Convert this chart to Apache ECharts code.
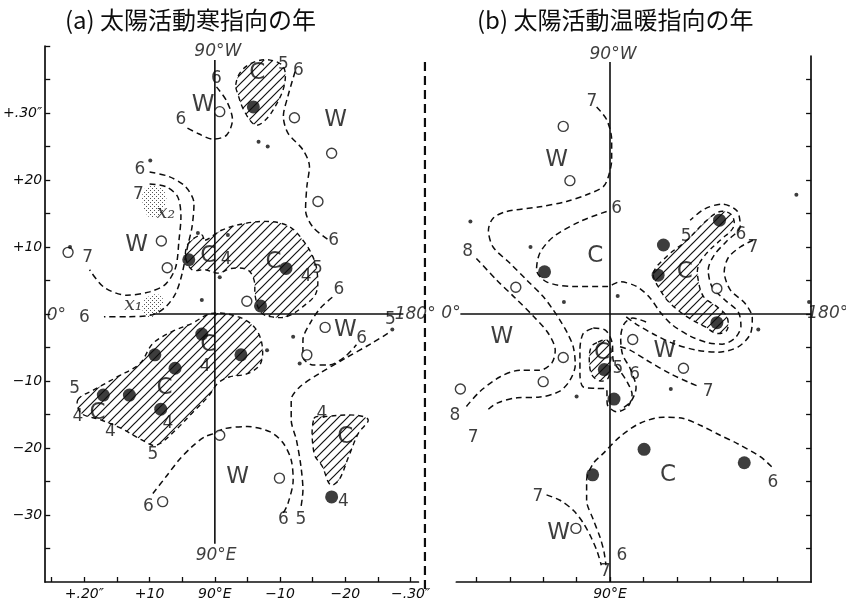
<!DOCTYPE html>
<html><head><meta charset="utf-8">
<script src="https://cdn.jsdelivr.net/npm/echarts@6/dist/echarts.min.js"></script>
<style>html,body{margin:0;padding:0;background:#fff}#c{width:846px;height:604px}</style>
</head><body><div id="c"></div>
<script>
// ---------- Panel (a) data ----------
const aFilled = [[5.9,30.9],[-4.0,8.1],[10.9,6.8],[7.0,1.2],[-2.0,-3.0],[-9.2,-6.1],[4.0,-6.1],[-6.1,-8.1],[-17.1,-12.1],[-13.1,-12.1],[-8.3,-14.2],[17.9,-27.3]];
const aOpen = [[0.75,30.2],[12.2,29.3],[17.9,24.0],[15.8,16.8],[-8.2,10.9],[-7.3,6.9],[-22.5,9.2],[4.9,1.9],[16.9,-2.0],[14.1,-6.1],[0.75,-18.1],[9.9,-24.5],[-8.0,-28.0]];
const aDots = [[-9.9,22.9],[6.7,25.7],[8.1,25.0],[-2.6,12.1],[-2.0,2.1],[2.0,11.8],[0.75,5.5],[12.0,-3.4],[8.0,-5.4],[13.0,-7.4],[27.2,-2.3],[-22.2,10.0]];
const aContours = [
  [[0.25,33.9],[1.8,31.8],[2.7,29.0],[1.8,26.7],[-0.3,26.1],[-2.5,26.9],[-4.3,27.8]],
  [[12.3,36.2],[11.2,32.5],[10.5,29.5],[11.2,27.0],[13.5,24.5],[14.5,22.0],[14.1,19.0],[13.9,15.5],[15.0,13.0],[17.5,11.0]],
  [[-10.0,21.2],[-7.0,20.5],[-4.5,19.0],[-3.2,16.5],[-3.5,13.0],[-4.2,10.0],[-5.0,6.1],[-6.0,3.1],[-7.5,1.1],[-9.5,-0.1],[-13.5,-0.4],[-17.0,-0.4]],
  [[-10.0,19.4],[-7.5,19.0],[-5.7,17.5],[-5.2,14.5],[-5.5,11.0],[-6.0,7.0],[-7.5,4.5],[-10.0,3.3],[-13.5,2.8],[-17.0,4.0],[-19.2,6.6]],
  [[-9.5,-26.8],[-7.5,-24.3],[-5.5,-21.8],[-3.5,-19.8],[-1.5,-18.3],[0,-17.8],[1.5,-17.1],[5.0,-16.8],[8.5,-17.6],[10.5,-19.3],[11.7,-21.8],[12.0,-24.8],[11.2,-28.3],[10.5,-29.7]],
  [[26.5,-2.9],[24.0,-4.4],[20.0,-6.6],[16.0,-8.9],[13.0,-10.9],[11.7,-12.8],[11.7,-15.8],[12.5,-18.8],[13.2,-22.8],[13.5,-26.3],[13.2,-28.8]],
  [[18.0,2.5],[16.2,0.9],[14.7,-1.2],[13.5,-3.9],[13.5,-6.4],[15.0,-7.6],[17.5,-7.6],[19.9,-6.4],[21.7,-4.6]]
];
const aHatched = [
  [[3.2,34.2],[4.0,36.2],[6.0,37.6],[8.5,37.9],[10.5,36.9],[10.7,34.4],[9.5,31.4],[7.7,28.9],[6.2,28.2],[4.5,30.3],[3.5,32.9]],
  [[-1.5,11.0],[1.0,12.5],[4.5,13.5],[8.5,13.8],[11.5,13.0],[13.5,11.0],[15.0,8.6],[15.7,6.1],[15.5,3.1],[13.5,1.1],[11.0,-0.4],[8.5,-0.4],[7.0,0.3],[6.2,2.6],[6.0,5.1],[5.0,6.6],[2.5,6.8],[0.5,6.1],[-1.5,6.6],[-3.5,6.6],[-4.5,8.6],[-4.0,10.6],[-2.0,11.8]],
  [[-21.0,-12.8],[-18.5,-11.3],[-15.0,-9.4],[-11.5,-7.4],[-9.5,-4.4],[-6.5,-2.6],[-3.5,-1.4],[-0.5,0.1],[3.5,-0.4],[6.0,-1.9],[7.2,-4.4],[7.0,-7.4],[5.0,-8.9],[2.2,-9.4],[0.5,-10.3],[-1.0,-12.3],[-3.5,-14.8],[-6.0,-17.3],[-9.0,-19.6],[-11.2,-18.8],[-14.5,-17.0],[-17.5,-15.8],[-20.5,-14.8]],
  [[15.2,-15.6],[17.0,-15.3],[21.5,-15.1],[23.5,-15.8],[22.0,-17.8],[20.5,-21.3],[19.0,-24.8],[17.7,-25.5],[16.5,-22.8],[15.2,-20.8]]
];
const aStippled = [
  [[-10.9,18.5],[-9.0,19.1],[-7.5,17.8],[-7.9,15.5],[-9.7,14.3],[-10.9,15.8]],
  [[-10.8,2.1],[-9.0,3.0],[-7.9,2.1],[-8.7,0.3],[-10.2,-0.6],[-11.1,0.6]]
];
const aLetters = [[6.5,35.9,'C'],[-1.8,31.2,'W'],[18.5,29.0,'W'],[-12.0,10.3,'W'],[-1.0,8.6,'C'],[9.0,7.8,'C'],[20.0,-2.4,'W'],[-1.0,-4.6,'C'],[-7.7,-11.1,'C'],[-18.0,-14.8,'C'],[20.0,-18.3,'C'],[3.5,-24.3,'W']];
const aNumbers = [[0.25,35.2,'6'],[10.5,37.2,'5'],[12.8,36.4,'6'],[-5.2,29.0,'6'],[-11.5,21.5,'6'],[-11.7,17.8,'7'],[-19.5,8.4,'7'],[-20.0,-0.6,'6'],[1.75,8.1,'4'],[14.0,5.6,'4'],[15.7,6.8,'5'],[18.2,11.0,'6'],[19.0,3.6,'6'],[22.5,-3.6,'6'],[26.9,-0.9,'5'],[-21.5,-11.1,'5'],[-21.0,-15.3,'4'],[-16.0,-17.6,'4'],[-7.2,-16.3,'4'],[-1.5,-7.9,'4'],[-9.5,-21.0,'5'],[-10.2,-28.8,'6'],[10.5,-30.7,'6'],[13.2,-30.7,'5'],[16.4,-14.8,'4'],[19.7,-28.0,'4']];
const aMarks = [[-7.5,15.0,'x₂'],[-12.5,1.3,'x₁']];
const aAxisText = [[0.45,39.1,'90°W'],[0.2,-36.0,'90°E'],[-24.3,-0.3,'0°'],[30.7,-0.1,'180°']];
const aXTickVals = [-20,-10,0,10,20,30];
const aXTickText = ['+.20″','+10','90°E','−10','−20','−.30″'];
const aYTickVals = [-30,-20,-10,10,20,30];
const aYTickText = ['−30','−20','−10','+10','+20','+.30″'];
const aXTicks = [-25,-20,-15,-10,-5,0,5,10,15,20,25,30];
const aYTicks = [-35,-30,-25,-20,-15,-10,-5,0,5,10,15,20,25,30,35,40];
const aCrossH = [[-9.5,0],[28.9,0]];
const aCrossV = [[0,37.9],[0,-34.3]];
const aBorder = [[32.2,37.6],[32.2,-41.5]];

// ---------- Panel (b) data ----------
const bFilled = [[-9.8,6.3],[16.4,14.0],[8.0,10.3],[7.2,5.8],[16.0,-1.3],[-0.85,-8.3],[0.6,-12.7],[-2.6,-24.0],[5.1,-20.2],[20.1,-22.2]];
const bOpen = [[-7.0,28.0],[-6.0,19.9],[-14.1,4.0],[16.0,3.8],[-7.0,-6.5],[-10.0,-10.1],[-22.4,-11.2],[3.4,-3.8],[11.0,-8.1],[-5.1,-32.0]];
const bDots = [[-20.9,13.8],[-11.9,10.0],[-6.9,1.8],[1.15,2.7],[27.9,17.8],[29.8,1.8],[22.2,-2.3],[9.1,-11.2],[-5.0,-12.3]];
const bContours = [
  [[-2.0,30.9],[-0.5,29.0],[0.25,26.0],[0.25,23.0],[-0.25,20.5],[-1.0,19.0],[-3.5,17.8],[-6.5,16.8],[-10.5,16.0],[-15.5,15.3],[-17.5,14.3],[-18.2,12.5],[-17.5,10.0],[-15.0,7.6],[-12.5,5.1],[-10.0,2.6],[-8.5,0.6],[-7.5,-0.9],[-6.4,-2.8],[-5.5,-4.9],[-5.2,-7.6],[-6.0,-9.9],[-7.5,-11.5],[-10.5,-12.4],[-13.9,-12.5],[-16.9,-13.3],[-18.3,-14.3]],
  [[-20.0,8.3],[-17.0,5.1],[-14.2,2.4],[-11.5,-0.3],[-9.3,-2.8],[-8.2,-5.4],[-8.7,-7.3],[-10.5,-8.4],[-13.5,-8.4],[-16.5,-9.4],[-19.5,-11.6],[-21.5,-13.8]],
  [[-0.5,15.3],[-4.5,13.8],[-8.5,11.5],[-10.5,9.1],[-11.0,6.6],[-9.5,4.8],[-5.5,4.1],[-0.5,4.1],[1.5,4.8],[4.0,4.1],[6.0,2.4],[7.5,0.3],[9.3,-1.6],[12.0,-3.3],[14.7,-4.3],[16.8,-4.5],[18.7,-3.6],[19.6,-1.8],[19.2,0.3],[17.2,2.1],[15.3,4.0],[14.7,6.6],[15.6,8.8],[17.5,10.9],[19.5,13.1],[19.0,15.4],[16.8,16.4],[14.2,15.7],[12.0,14.0]],
  [[21.4,11.0],[19.5,10.0],[17.7,8.4],[17.1,6.3],[18.0,3.6],[20.2,1.6],[21.3,-0.6],[21.0,-3.0],[19.2,-4.9],[16.2,-5.7],[13.0,-5.4],[9.7,-4.5],[6.7,-3.1],[3.9,-1.5],[2.4,-0.4]],
  [[5.4,-1.2],[3.4,-0.6],[2.1,-1.5],[1.6,-3.6],[1.9,-6.1],[3.0,-8.1],[3.9,-11.0],[3.1,-13.1],[1.5,-14.3]],
  [[1.5,-4.9],[3.0,-5.4],[5.5,-6.9],[9.0,-8.9],[12.0,-10.3],[13.5,-10.9]],
  [[24.2,-22.8],[22.5,-21.3],[19.0,-19.3],[16.5,-18.1],[13.5,-16.6],[11.0,-15.6],[8.0,-15.4],[4.5,-16.3],[1.5,-18.3],[-1.0,-20.8],[-2.5,-22.3],[-3.5,-24.8],[-3.5,-27.8],[-2.5,-30.7],[-1.5,-33.3],[-0.9,-35.5],[-0.6,-37.5]],
  [[-9.5,-27.0],[-7.5,-27.8],[-5.5,-29.3],[-4.0,-31.2],[-2.8,-33.4],[-1.9,-35.5],[-1.3,-37.5]],
  [[-2.5,-2.1],[-0.7,-2.4],[0.3,-4.2],[0.5,-7.0],[1.5,-8.5],[2.6,-10.2],[3.3,-12.0],[2.7,-13.8],[1.0,-14.6],[-0.4,-13.5],[-0.5,-11.2],[-2.0,-11.1],[-4.0,-10.9],[-4.5,-9.0],[-4.5,-5.4],[-4.0,-2.9],[-2.5,-2.1]]
];
const bHatched = [
  [[6.5,6.1],[8.5,8.6],[11.5,11.0],[14.5,14.0],[16.5,15.3],[18.2,14.8],[18.5,13.0],[16.5,11.0],[14.5,9.1],[13.2,7.1],[13.2,5.1],[14.0,2.6],[16.0,1.1],[17.5,-0.4],[17.5,-2.4],[16.0,-2.9],[14.2,-1.9],[11.5,-0.4],[9.0,1.6],[7.5,3.6]],
  [[-1.8,-4.2],[-0.45,-3.9],[0.15,-5.4],[0,-7.6],[-0.3,-9.6],[-1.5,-10.0],[-2.7,-9.1],[-3.1,-6.9],[-2.8,-4.9]]
];
const bLetters = [[-8.0,23.0,'W'],[-2.2,8.6,'C'],[11.2,6.3,'C'],[-16.2,-3.4,'W'],[-1.2,-5.9,'C'],[8.2,-5.6,'W'],[8.7,-24.0,'C'],[-7.7,-32.7,'W']];
const bNumbers = [[-2.7,31.7,'7'],[1.0,15.8,'6'],[-21.3,9.3,'8'],[-23.2,-15.1,'8'],[-20.5,-18.4,'7'],[11.4,11.5,'5'],[19.6,11.8,'6'],[21.4,9.9,'7'],[1.2,-8.1,'5'],[3.7,-9.1,'6'],[14.7,-11.6,'7'],[24.4,-25.1,'6'],[-10.8,-27.3,'7'],[1.8,-36.0,'6'],[-0.7,-38.5,'7']];
const bAxisText = [[0.45,38.7,'90°W'],[-23.8,0,'0°'],[32.6,0.1,'180°']];
const bXTickVals = [0];
const bXTickText = ['90°E'];
const bXTicks = [-20,-15,-10,-5,0,5,10,15,20,25];
const bYTicks = [-35,-30,-25,-20,-15,-10,-5,0,5,10,15,20,25,30,35];
const bCrossH = [[-22.4,0],[30.1,0]];
const bCrossV = [[0,37.6],[0,-40]];

const titleA = '(a) 太陽活動寒指向の年';
const titleB = '(b) 太陽活動温暖指向の年';

// ---------- layout ----------
const KX = 6.68, KY = 6.7;
const PA = {x0:210, y0:314, xmin:-26, xmax:31.2, ymin:-40, ymax:40};
const PB = {x0:610, y0:314, xmin:-23, xmax:30.1, ymin:-40, ymax:38.5};
function gridOf(p){ return {left:p.x0+p.xmin*KX, top:p.y0-p.ymax*KY, width:(p.xmax-p.xmin)*KX, height:(p.ymax-p.ymin)*KY, containLabel:false}; }

function hatchCanvas(size, lw){
  const c=document.createElement('canvas'); c.width=c.height=size;
  const g=c.getContext('2d'); g.strokeStyle='#111'; g.lineWidth=lw; g.beginPath();
  g.moveTo(0,size); g.lineTo(size,0);
  g.moveTo(-size/2,size/2); g.lineTo(size/2,-size/2);
  g.moveTo(size/2,size*1.5); g.lineTo(size*1.5,size/2);
  g.stroke(); return c;
}
function stippleCanvas(){
  const c=document.createElement('canvas'); c.width=c.height=4;
  const g=c.getContext('2d'); g.fillStyle='#555';
  g.fillRect(0,0,1,1); g.fillRect(2,2,1,1); return c;
}
const HATCH = hatchCanvas(9, 1.2);
const STIP = stippleCanvas();
const INK = '#0d0d0d';
const HAND = "'DejaVu Sans', sans-serif";

function polySeries(polys, ai, img, dashed){
  return {type:'custom', xAxisIndex:ai, yAxisIndex:ai, data:polys.map(p=>p[0]), clip:false, silent:true, z:1,
    renderItem:(params, api)=>{
      const pts = polys[params.dataIndex].map(q=>api.coord(q));
      return {type:'polygon', shape:{points:pts, smooth:0.35},
        style:{fill:{image:img, repeat:'repeat'}, stroke: dashed?INK:'none', lineWidth:1.4, lineDash: dashed?[5,4]:null}};
    }};
}
function polylineSeries(line, ai, width, dash){
  return {type:'custom', xAxisIndex:ai, yAxisIndex:ai, data:[line[0]], clip:false, silent:true, z:2,
    renderItem:(params, api)=>({type:'polyline', shape:{points:line.map(q=>api.coord(q))},
      style:{fill:'none', stroke:INK, lineWidth:width, lineDash:dash}})};
}
function lineSeries(data, ai){
  return {type:'line', xAxisIndex:ai, yAxisIndex:ai, data, smooth:0.3, symbol:'none', showSymbol:false, clip:false, silent:true, z:3,
    lineStyle:{color:INK, width:1.5, type:[6,4]}};
}
function ptSeries(data, ai, kind){
  const s={type:'scatter', xAxisIndex:ai, yAxisIndex:ai, data, clip:false, silent:true, z:4, symbol:'circle'};
  if(kind==='filled'){ s.symbolSize=13; s.itemStyle={color:INK}; }
  else if(kind==='open'){ s.symbolSize=10; s.itemStyle={color:'#fff', borderColor:INK, borderWidth:1.4}; }
  else { s.symbolSize=4; s.itemStyle={color:INK}; }
  return s;
}
function textSeries(data, ai, size, font, style){
  return {type:'scatter', xAxisIndex:ai, yAxisIndex:ai, data, symbolSize:1, clip:false, silent:true, z:6,
    itemStyle:{color:'rgba(0,0,0,0)'},
    label:{show:true, position:'inside', formatter:p=>p.value[2], color:INK, fontSize:size, fontFamily:font, fontStyle:style||'normal'}};
}

const series = [];
[[aHatched,aStippled,aContours,aCrossH,aCrossV,aFilled,aOpen,aDots,aLetters,aNumbers,aMarks,aAxisText,0],
 [bHatched,[],bContours,bCrossH,bCrossV,bFilled,bOpen,bDots,bLetters,bNumbers,[],bAxisText,1]].forEach(P=>{
  const ai=P[12];
  series.push(polySeries(P[0], ai, HATCH, true));
  if(P[1].length) series.push(polySeries(P[1], ai, STIP, false));
  P[2].forEach(c=>series.push(lineSeries(c, ai)));
  series.push(polylineSeries(P[3], ai, 1.6, null));
  series.push(polylineSeries(P[4], ai, 1.6, null));
  series.push(ptSeries(P[5], ai, 'filled'));
  series.push(ptSeries(P[6], ai, 'open'));
  series.push(ptSeries(P[7], ai, 'dot'));
  series.push(textSeries(P[8], ai, 23, HAND));
  series.push(textSeries(P[9], ai, 17, HAND));
  if(P[10].length) series.push(textSeries(P[10], ai, 19, "'DejaVu Serif', serif", 'italic'));
  series.push(textSeries(P[11], ai, 17, HAND, 'italic'));
});
series.push(polylineSeries(aBorder, 0, 2.2, [9,5]));

const axisLine = {show:true, onZero:false, lineStyle:{color:INK, width:1.7}};
const labelStyle = {color:INK, fontSize:14, fontFamily:HAND, fontStyle:'italic'};

const option = {
  backgroundColor:'#fff',
  animation:false,
  title:[
    {text:titleA, left:60, top:3, textStyle:{fontFamily:"'Noto Sans CJK JP', sans-serif", fontSize:24, fontWeight:'normal', color:INK}},
    {text:titleB, left:472, top:3, textStyle:{fontFamily:"'Noto Sans CJK JP', sans-serif", fontSize:24, fontWeight:'normal', color:INK}}
  ],
  grid:[gridOf(PA), gridOf(PB)],
  xAxis:[
    {type:'value', gridIndex:0, min:PA.xmin, max:PA.xmax, position:'bottom', axisLine, splitLine:{show:false},
     axisTick:{show:true, inside:true, length:5, lineStyle:{color:INK, width:1.3}, customValues:aXTicks},
     axisLabel:Object.assign({customValues:aXTickVals, margin:5, formatter:v=>aXTickText[aXTickVals.indexOf(v)]||''}, labelStyle)},
    {type:'value', gridIndex:1, min:PB.xmin, max:PB.xmax, position:'bottom', axisLine, splitLine:{show:false},
     axisTick:{show:true, inside:true, length:5, lineStyle:{color:INK, width:1.3}, customValues:bXTicks},
     axisLabel:Object.assign({customValues:bXTickVals, margin:5, formatter:v=>bXTickText[bXTickVals.indexOf(v)]||''}, labelStyle)}
  ],
  yAxis:[
    {type:'value', gridIndex:0, min:PA.ymin, max:PA.ymax, position:'left', axisLine, splitLine:{show:false},
     axisTick:{show:true, inside:true, length:5, lineStyle:{color:INK, width:1.3}, customValues:aYTicks},
     axisLabel:Object.assign({customValues:aYTickVals, margin:3, formatter:v=>aYTickText[aYTickVals.indexOf(v)]||''}, labelStyle)},
    {type:'value', gridIndex:1, min:PB.ymin, max:PB.ymax, position:'right', axisLine, splitLine:{show:false},
     axisTick:{show:true, inside:true, length:5, lineStyle:{color:INK, width:1.3}, customValues:bYTicks},
     axisLabel:{show:false}}
  ],
  series
};
const chart = echarts.init(document.getElementById('c'), null, {renderer:'canvas'});
chart.setOption(option);
</script></body></html>
